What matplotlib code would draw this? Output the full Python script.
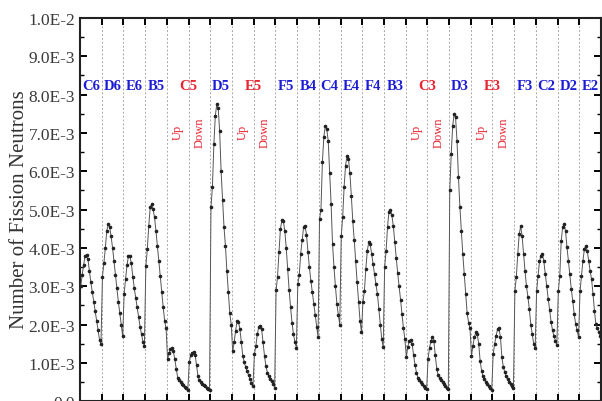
import numpy as np
import matplotlib
matplotlib.use('Agg')
import matplotlib.pyplot as plt
from matplotlib.ticker import FuncFormatter, MultipleLocator

plt.rcParams['font.family'] = ['Liberation Serif', 'DejaVu Serif']

# fission neutrons per assembly segment, in units of 1e-3
c6 = [3.0, 3.3, 3.55, 3.8, 3.82, 3.7, 3.4, 3.1, 2.85, 2.6, 2.35, 2.1, 1.85, 1.6, 1.5]
d6 = [3.25, 3.6, 4.0, 4.45, 4.62, 4.55, 4.3, 4.0, 3.65, 3.3, 2.95, 2.6, 2.3, 2.0, 1.7]
e6 = [2.8, 3.2, 3.55, 3.8, 3.78, 3.6, 3.25, 2.95, 2.7, 2.45, 2.2, 1.95, 1.75, 1.55, 1.45]
b5 = [3.52, 3.97, 4.57, 5.06, 5.14, 5.01, 4.8, 4.44, 4.05, 3.66, 3.26, 2.85, 2.45, 2.1, 1.9]
c5_up = [1.1, 1.25, 1.36, 1.38, 1.3, 1.1, 0.85, 0.62, 0.55, 0.5, 0.46, 0.42, 0.38, 0.34, 0.3]
c5_down = [1.02, 1.2, 1.27, 1.28, 1.22, 0.95, 0.65, 0.55, 0.5, 0.46, 0.42, 0.39, 0.36, 0.33, 0.3]
d5 = [5.06, 5.6, 6.7, 7.45, 7.75, 7.65, 7.05, 6.0, 5.25, 4.55, 4.05, 3.4, 2.85, 2.3, 2.0]
e5_up = [1.31, 1.54, 1.83, 2.09, 2.08, 1.88, 1.54, 1.18, 1.02, 0.89, 0.78, 0.68, 0.58, 0.48, 0.39]
e5_down = [1.23, 1.44, 1.75, 1.93, 1.97, 1.88, 1.54, 1.18, 0.91, 0.75, 0.65, 0.58, 0.52, 0.44, 0.36]
f5 = [2.9, 3.25, 3.9, 4.5, 4.72, 4.7, 4.45, 4.0, 3.45, 2.9, 2.45, 2.05, 1.75, 1.55, 1.4]
b4 = [3.05, 3.3, 3.85, 4.2, 4.55, 4.57, 4.35, 3.9, 3.5, 3.15, 2.85, 2.55, 2.25, 1.95, 1.67]
c4 = [4.75, 5.0, 6.25, 6.9, 7.18, 7.1, 6.8, 5.95, 5.15, 4.1, 3.5, 3.0, 2.55, 2.25, 2.0]
e4 = [4.3, 4.8, 5.6, 6.15, 6.4, 6.32, 5.95, 5.35, 4.7, 4.2, 3.65, 3.1, 2.6, 2.1, 1.8]
f4 = [2.6, 2.87, 3.45, 3.92, 4.15, 4.1, 3.85, 3.58, 3.32, 3.05, 2.8, 2.4, 2.0, 1.62, 1.41]
b3 = [3.5, 3.92, 4.55, 4.95, 5.0, 4.85, 4.57, 4.15, 3.75, 3.35, 3.0, 2.65, 2.27, 1.9, 1.62]
c3_up = [1.15, 1.42, 1.58, 1.6, 1.5, 1.2, 0.95, 0.75, 0.62, 0.55, 0.5, 0.45, 0.4, 0.35, 0.31]
c3_down = [1.1, 1.4, 1.57, 1.67, 1.58, 1.2, 0.85, 0.68, 0.6, 0.55, 0.5, 0.45, 0.4, 0.36, 0.33]
d3 = [5.5, 6.45, 7.18, 7.49, 7.41, 6.8, 5.85, 5.07, 4.44, 3.84, 3.32, 2.79, 2.3, 2.05, 1.9]
e3_up = [1.18, 1.45, 1.67, 1.8, 1.75, 1.5, 1.05, 0.8, 0.65, 0.57, 0.5, 0.44, 0.39, 0.34, 0.3]
e3_down = [1.23, 1.5, 1.7, 1.88, 1.9, 1.68, 1.15, 0.9, 0.76, 0.65, 0.57, 0.5, 0.44, 0.39, 0.35]
f3 = [2.87, 3.25, 3.85, 4.36, 4.57, 4.3, 3.85, 3.4, 3.0, 2.72, 2.4, 2.0, 1.75, 1.5, 1.38]
c2 = [2.87, 3.26, 3.65, 3.8, 3.84, 3.65, 3.32, 3.0, 2.68, 2.38, 2.08, 1.85, 1.7, 1.58, 1.48]
d2 = [2.87, 3.26, 4.18, 4.54, 4.62, 4.44, 4.02, 3.66, 3.32, 2.92, 2.61, 2.27, 2.01, 1.85, 1.67]
e2 = [2.87, 3.26, 3.66, 3.97, 4.05, 3.92, 3.66, 3.4, 3.18, 2.79, 2.35, 2.01, 1.9, 1.8, 1.7]

names = ['C6', 'D6', 'E6', 'B5', 'C5', 'C5', 'D5', 'E5', 'E5', 'F5', 'B4', 'C4',
         'E4', 'F4', 'B3', 'C3', 'C3', 'D3', 'E3', 'E3', 'F3', 'C2', 'D2', 'E2']
parts = ['', '', '', '', 'Up', 'Down', '', 'Up', 'Down', '', '', '',
         '', '', '', 'Up', 'Down', '', 'Up', 'Down', '', '', '', '']
segments = [c6, d6, e6, b5, c5_up, c5_down, d5, e5_up, e5_down, f5, b4, c4,
            e4, f4, b3, c3_up, c3_down, d3, e3_up, e3_down, f3, c2, d2, e2]

blue = '#1c1cd6'
red = '#e8232e'

xs, ys = [], []
for i, seg in enumerate(segments):
    n = len(seg)
    xs.extend(i + (np.arange(n) + 0.5) / n)
    ys.extend(np.array(seg) * 1e-3)

fig = plt.figure(figsize=(6.02, 4.02), dpi=100)
ax = fig.add_axes([80 / 602, -0.3 / 402, 521 / 602, 383.3 / 402])

ax.plot(xs, ys, '-', color='#555555', lw=0.7, marker='o', ms=1.6,
        mfc='#222222', mec='#222222', zorder=3)

ax.set_xlim(0, len(segments))
ax.set_ylim(0, 0.01)
ax.set_xticks(range(1, len(segments)))
ax.set_xticklabels([])
ax.xaxis.grid(True, linestyle=(0, (2, 2)), color='#a8a8a8', lw=0.7)

ax.yaxis.set_major_locator(MultipleLocator(1e-3))
ax.yaxis.set_minor_locator(MultipleLocator(5e-4))


def sci(v, pos):
    if v < -1e-12:
        return ''
    if abs(v) < 1e-12:
        return '0.0'
    e = int(np.floor(np.log10(v) + 1e-9))
    return '%.1fE%d' % (v / 10 ** e, e)


ax.yaxis.set_major_formatter(FuncFormatter(sci))
ax.tick_params(axis='both', which='major', direction='in', top=True, right=True,
               length=5, width=1.4, labelsize=12.5, labelcolor='#3a3a3a')
ax.tick_params(axis='y', which='minor', direction='in', right=True, length=3, width=1)
for s in ax.spines.values():
    s.set_linewidth(1.5)
    s.set_color('#222222')

# segment labels on top, red for split (up/down) assemblies
i = 0
while i < len(names):
    j = i
    while j + 1 < len(names) and names[j + 1] == names[i]:
        j += 1
    col = red if parts[i] else blue
    ax.text((i + j + 1) / 2, 8.23e-3, names[i], ha='center', va='center',
            color=col, fontsize=10.5, fontweight='bold')
    i = j + 1

for i, p in enumerate(parts):
    if p:
        ax.text(i + 0.5, 7.03e-3, p, ha='center', va='center', rotation=90,
                color=red, fontsize=9)

fig.text(19.5 / 602, 1 - 210 / 402, 'Number of Fission Neutrons', rotation=90,
         ha='center', va='center', fontsize=15, color='#333333')

fig.savefig('out.png', dpi=100)
